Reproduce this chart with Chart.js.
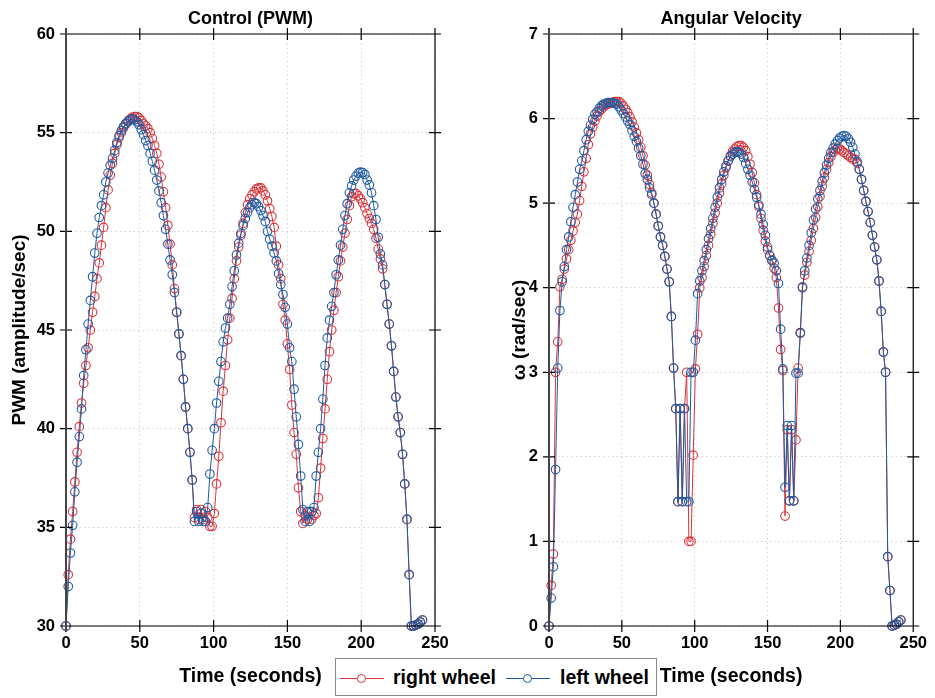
<!DOCTYPE html>
<html>
<head>
<meta charset="utf-8">
<script src="https://cdn.jsdelivr.net/npm/chart.js@4.4.1/dist/chart.umd.min.js"></script>
<style>
  body { margin: 0; background: #fff; }
  #wrap { position: relative; width: 935px; height: 698px; overflow: hidden; }
  #pwmChart { position: absolute; left: 0; top: 0; }
  #velChart { position: absolute; left: 470px; top: 0; }
  #legend {
    position: absolute; left: 335px; top: 658px; width: 320px; height: 36px;
    border: 1px solid #888; background: #fff;
    font: bold 19.5px "Liberation Sans", Arial, sans-serif; color: #000;
  }
  .sym { position: absolute; top: 19px; width: 44px; height: 0; }
  .sym i { position: absolute; left: 0; right: 0; top: 0; border-top: 1px solid; }
  .sym b { position: absolute; left: 17px; top: -4px; width: 7px; height: 7px; border: 1px solid; border-radius: 50%; background: #fff; }
  .lbl { position: absolute; top: 7px; line-height: 23px; white-space: nowrap; }
</style>
</head>
<body>
<div id="wrap">
  <canvas id="pwmChart" width="470" height="698"></canvas>
  <canvas id="velChart" width="465" height="698"></canvas>
  <div id="legend">
    <span class="sym" style="left:4px; color:#d9343a"><i></i><b></b></span>
    <span class="lbl" style="left:57px">right wheel</span>
    <span class="sym" style="left:170px; color:#1f5aa0"><i></i><b></b></span>
    <span class="lbl" style="left:224px">left wheel</span>
  </div>
</div>
<script>
// Change Label & Data Set Here
var time = [
  0, 1.5, 3, 4.5, 6, 7.5, 9, 10.5, 12, 13.5,
  15, 16.5, 18, 19.5, 21, 22.5, 24, 25.5, 27, 28.5,
  30, 31.5, 33, 34.5, 36, 37.5, 39, 40.5, 42, 43.5,
  45, 46.5, 48, 49.5, 51, 52.5, 54, 55.5, 57, 58.5,
  60, 61.5, 63, 64.5, 66, 67.5, 69, 70.5, 72, 73.5,
  75, 76.5, 78, 79.5, 81, 82.5, 84, 85.5, 87, 88.5,
  90, 91.5, 93, 94.5, 96, 97.5, 99, 100.5, 102, 103.5,
  105, 106.5, 108, 109.5, 111, 112.5, 114, 115.5, 117, 118.5,
  120, 121.5, 123, 124.5, 126, 127.5, 129, 130.5, 132, 133.5,
  135, 136.5, 138, 139.5, 141, 142.5, 144, 145.5, 147, 148.5,
  150, 151.5, 153, 154.5, 156, 157.5, 159, 160.5, 162, 163.5,
  165, 166.5, 168, 169.5, 171, 172.5, 174, 175.5, 177, 178.5,
  180, 181.5, 183, 184.5, 186, 187.5, 189, 190.5, 192, 193.5,
  195, 196.5, 198, 199.5, 201, 202.5, 204, 205.5, 207, 208.5,
  210, 211.5, 213, 214.5, 216, 217.5, 219, 220.5, 222, 223.5,
  225, 226.5, 228, 229.5, 231, 232.5, 234, 235.5, 237, 238.5,
  240, 241.5
];

// PWM, right wheel
var pwmRight = [
  30.0, 32.6, 34.4, 35.8, 37.3, 38.8, 40.1, 41.3, 42.3, 43.2,
  44.1, 45.0, 45.9, 46.7, 47.6, 48.4, 49.3, 50.2, 51.2, 52.1,
  52.85, 53.45, 53.95, 54.4, 54.75, 55.0, 55.25, 55.45, 55.6, 55.7,
  55.78, 55.82, 55.82, 55.75, 55.62, 55.45, 55.35, 55.2, 55.0, 54.7,
  54.35, 53.95, 53.4, 52.75, 52.0, 51.2, 50.3, 49.35, 48.3, 47.1,
  45.9, 44.8, 43.7, 42.5, 41.1, 40.0, 38.8, 37.4, 35.5, 35.9,
  35.4, 35.9, 35.4, 35.8, 35.5, 35.05, 35.05, 35.7, 37.2, 38.6,
  40.3, 41.9, 43.2, 44.5, 45.6, 46.6, 47.6, 48.5, 49.2, 49.8,
  50.4, 50.95, 51.35, 51.65, 51.85, 52.0, 52.15, 52.2, 52.2, 52.05,
  51.85, 51.55, 51.15, 50.75, 50.2, 49.25, 48.3, 47.6, 46.3, 45.5,
  44.3, 43.0, 41.2, 39.8, 38.7, 37.0, 35.8, 35.2, 35.6, 35.4,
  35.8, 35.4, 35.6, 35.7, 36.5, 38.0, 39.5, 41.0, 42.5, 43.9,
  45.0, 46.0, 46.9, 47.7, 48.5, 49.2, 49.9, 50.6, 51.3, 51.75,
  51.9, 51.92, 51.8, 51.65, 51.45, 51.2, 50.9, 50.65, 50.4, 50.1,
  49.65, 49.1, 48.6, 48.1, 47.3, 46.3, 45.3, 44.2, 42.9, 41.6,
  40.6, 39.8, 38.7, 37.2, 35.4, 32.6, 30.0, 30.0, 30.05, 30.1,
  30.2, 30.3
];

// PWM, left wheel
var pwmLeft = [
  30.0, 32.0, 33.7, 35.1, 36.8, 38.3, 39.6, 41.0, 42.7, 44.0,
  45.3, 46.5, 47.7, 48.9, 49.9, 50.7, 51.3, 51.85, 52.5, 52.95,
  53.35, 53.7, 54.1, 54.5, 54.85, 55.1, 55.3, 55.45, 55.55, 55.65,
  55.7, 55.65, 55.55, 55.4, 55.15, 54.9, 54.6, 54.35, 53.95, 53.55,
  53.1, 52.6, 52.05, 51.45, 50.8, 50.1, 49.35, 48.55, 47.8, 46.9,
  45.9, 44.8, 43.7, 42.5, 41.1, 40.0, 38.8, 37.4, 35.3, 35.8,
  35.3, 35.7, 35.3, 35.3, 36.0, 37.7, 38.9, 40.0, 41.3, 42.4,
  43.4, 44.4, 45.1, 45.6, 46.3, 47.2, 48.0, 48.8, 49.4, 49.9,
  50.3, 50.65, 50.95, 51.2, 51.35, 51.45, 51.4, 51.25, 51.05, 50.8,
  50.5, 50.0, 49.6, 49.25, 48.9, 48.5, 47.85, 47.3, 46.8, 46.15,
  45.3, 44.1, 43.4, 42.0, 40.6, 39.2, 37.6, 35.9, 35.3, 35.8,
  35.3, 35.8, 36.0, 37.6, 38.8, 40.0, 41.5, 43.2, 44.6, 45.5,
  46.2, 46.9, 47.8, 48.55, 49.3, 50.1, 50.8, 51.4, 51.95, 52.3,
  52.6, 52.8, 52.95, 53.0, 52.98, 52.88, 52.6, 52.35, 51.95, 51.3,
  50.6, 49.7, 48.85, 48.3, 47.3, 46.3, 45.3, 44.2, 42.9, 41.6,
  40.6, 39.8, 38.7, 37.2, 35.4, 32.6, 30.0, 30.0, 30.05, 30.1,
  30.2, 30.3
];

// angular velocity, right wheel
var velRight = [
  0, 0.48, 0.85, 3.0, 3.36, 4.01, 4.1, 4.22, 4.34, 4.45,
  4.56, 4.67, 4.77, 4.87, 5.03, 5.2, 5.37, 5.53, 5.69, 5.82,
  5.9, 5.97, 6.03, 6.08, 6.11, 6.14, 6.16, 6.17, 6.18, 6.19,
  6.2, 6.2, 6.2, 6.18, 6.15, 6.11, 6.07, 6.02, 5.96, 5.9,
  5.83, 5.75, 5.66, 5.56, 5.45, 5.33, 5.22, 5.12, 5.0, 4.87,
  4.73, 4.6, 4.5, 4.37, 4.22, 4.07, 3.66, 3.05, 2.57, 1.47,
  2.57, 1.47, 2.57, 3.0, 1.0, 1.0, 2.02, 3.04, 3.45, 4.0,
  4.12, 4.25, 4.38, 4.5, 4.63, 4.76, 4.88, 5.0, 5.12, 5.23,
  5.33, 5.42, 5.5, 5.56, 5.61, 5.64, 5.67, 5.68, 5.68, 5.66,
  5.62, 5.55, 5.46, 5.36, 5.24, 5.1, 4.96, 4.82, 4.68, 4.55,
  4.45, 4.38, 4.33, 4.23, 4.12, 3.76, 3.27, 3.02, 1.3, 2.32,
  1.48, 2.32, 1.48, 2.2, 3.05, 3.46, 4.01, 4.15, 4.3, 4.43,
  4.56, 4.7, 4.83, 4.96, 5.08, 5.2, 5.3, 5.4, 5.48, 5.55,
  5.6, 5.63, 5.65, 5.64, 5.62, 5.6, 5.58, 5.56, 5.54, 5.52,
  5.52, 5.47, 5.4, 5.28, 5.15, 5.02, 4.9, 4.77, 4.62, 4.48,
  4.33, 4.08, 3.72, 3.24, 3.0, 0.82, 0.42, 0.0, 0.01, 0.02,
  0.05, 0.07
];

// angular velocity, left wheel
var velLeft = [
  0, 0.33, 0.7, 1.85, 3.05, 3.73, 4.07, 4.25, 4.45, 4.6,
  4.78, 4.95, 5.1, 5.25, 5.4, 5.5, 5.62, 5.75, 5.85, 5.92,
  5.99, 6.05, 6.08, 6.12, 6.15, 6.17, 6.18, 6.19, 6.19, 6.19,
  6.18, 6.17, 6.14, 6.1, 6.06, 6.02, 5.97, 5.93, 5.86, 5.79,
  5.73, 5.65, 5.56, 5.46, 5.35, 5.28, 5.18, 5.1, 5.0, 4.87,
  4.73, 4.6, 4.5, 4.37, 4.22, 4.07, 3.66, 3.05, 2.57, 1.47,
  2.57, 1.47, 2.57, 1.47, 1.47, 3.0, 3.0, 3.38, 3.93, 4.08,
  4.2, 4.32, 4.45, 4.58, 4.7, 4.82, 4.95, 5.07, 5.18, 5.28,
  5.37, 5.44, 5.5, 5.55, 5.58, 5.6, 5.61, 5.6, 5.58, 5.54,
  5.47, 5.4, 5.33, 5.25, 5.16, 5.07, 4.98, 4.87, 4.75, 4.62,
  4.48, 4.38, 4.32, 4.29, 4.2, 4.05, 3.51, 3.04, 1.64, 2.37,
  1.48, 2.37, 1.48, 2.99, 2.99, 3.47, 4.0, 4.2, 4.35, 4.5,
  4.65, 4.8, 4.93, 5.05, 5.15, 5.26, 5.36, 5.45, 5.53, 5.6,
  5.65, 5.7, 5.74, 5.77, 5.79, 5.8, 5.79, 5.76, 5.72, 5.66,
  5.58, 5.49, 5.4, 5.28, 5.15, 5.02, 4.9, 4.77, 4.62, 4.48,
  4.33, 4.08, 3.72, 3.24, 3.0, 0.82, 0.42, 0.0, 0.01, 0.02,
  0.05, 0.07
];

var xTicks = [0, 50, 100, 150, 200, 250];
var pwmTicks = [30, 35, 40, 45, 50, 55, 60];
var velTicks = [0, 1, 2, 3, 4, 5, 6, 7];

var redColor = '#d9343a';
var blueColor = '#1f5aa0';
var fontFamily = '"Liberation Sans", Arial, Helvetica, sans-serif';

Chart.defaults.font.family = fontFamily;
Chart.defaults.color = '#000';

function toPoints(xs, ys) {
    return xs.map(function (x, i) { return { x: x, y: ys[i] }; });
}

function seriesSet(label, ys, color, order) {
    return {
        label: label,
        data: toPoints(time, ys),
        showLine: true,
        borderColor: color,
        borderWidth: 1,
        pointRadius: 4.3,
        pointBorderWidth: 1.1,
        pointBorderColor: color,
        pointBackgroundColor: 'rgba(0,0,0,0)',
        pointHoverRadius: 0,
        tension: 0,
        clip: false,
        order: order
    };
}

/**
 * Box round the axes, with ticks that cross each side,
 * and the title centred over the plot box
 */
const framePlugin = {
    id: 'frame',
    afterDraw(chart, args, opts) {
        const { ctx, chartArea, scales } = chart;
        const { left, right, top, bottom } = chartArea;
        const { x, y } = scales;
        ctx.save();
        ctx.strokeStyle = '#000';
        ctx.lineWidth = 1.2;
        ctx.beginPath();
        ctx.moveTo(left, top); ctx.lineTo(right, top);
        ctx.moveTo(right, top); ctx.lineTo(right, bottom);
        ctx.moveTo(left - 6, bottom); ctx.lineTo(right + 6, bottom);
        x.ticks.forEach(function (t) {
            const px = x.getPixelForValue(t.value);
            ctx.moveTo(px, bottom - 6); ctx.lineTo(px, bottom + 6);
            ctx.moveTo(px, top - 6); ctx.lineTo(px, top + 6);
        });
        y.ticks.forEach(function (t) {
            const py = y.getPixelForValue(t.value);
            ctx.moveTo(left - 6, py); ctx.lineTo(left + 6, py);
            ctx.moveTo(right - 6, py); ctx.lineTo(right + 6, py);
        });
        ctx.stroke();
        ctx.strokeStyle = '#444';
        ctx.lineWidth = 2;
        ctx.beginPath();
        ctx.moveTo(left, top - 6); ctx.lineTo(left, bottom + 6);
        ctx.stroke();

        ctx.fillStyle = '#000';
        ctx.font = 'bold 18px ' + fontFamily;
        ctx.textAlign = 'center';
        ctx.textBaseline = 'middle';
        ctx.fillText(opts.text, (left + right) / 2, 19);
        ctx.restore();
    }
};

function config(title, yTitle, rightSet, leftSet, yMin, yMax, yStep, yTickList, yWidth, padRight, yTitlePad) {
    return {
        type: 'scatter',
        data: { datasets: [rightSet, leftSet] },
        options: {
            responsive: false,
            animation: false,
            events: [],
            layout: { padding: { left: 0, right: padRight, top: 34, bottom: 0 } },
            plugins: {
                legend: { display: false },
                tooltip: { enabled: false },
                title: { display: false },
                frame: { text: title }
            },
            scales: {
                x: {
                    type: 'linear',
                    min: 0,
                    max: 250,
                    afterFit: function (s) { s.height = 72; },
                    afterBuildTicks: function (s) { s.ticks = xTicks.map(function (v) { return { value: v }; }); },
                    ticks: { font: { size: 16.5, weight: 'bold' }, padding: 8, color: '#000', maxRotation: 0 },
                    grid: { color: '#d2d2d2', lineWidth: 1, drawTicks: false },
                    border: { display: false, dash: [1.5, 3] },
                    title: {
                        display: true,
                        text: 'Time (seconds)',
                        color: '#000',
                        font: { size: 19.5, weight: 'bold' },
                        padding: { top: 0, bottom: 10 }
                    }
                },
                y: {
                    type: 'linear',
                    min: yMin,
                    max: yMax,
                    afterFit: function (s) { s.width = yWidth; },
                    afterBuildTicks: function (s) { s.ticks = yTickList.map(function (v) { return { value: v }; }); },
                    ticks: { font: { size: 16.5, weight: 'bold' }, padding: 11, color: '#000', stepSize: yStep },
                    grid: { color: '#d2d2d2', lineWidth: 1, drawTicks: false },
                    border: { display: false, dash: [1.5, 3] },
                    title: {
                        display: true,
                        text: yTitle,
                        color: '#000',
                        font: { size: 19, weight: 'bold' },
                        padding: { top: yTitlePad, bottom: 0 }
                    }
                }
            }
        },
        plugins: [framePlugin]
    };
}

const pwmChart = new Chart(
    document.getElementById('pwmChart'),
    config('Control (PWM)', 'PWM (amplitude/sec)',
        seriesSet('right wheel', pwmRight, redColor, 1),
        seriesSet('left wheel', pwmLeft, blueColor, 0),
        30, 60, 5, pwmTicks, 66, 35, 8.5)
);

const velChart = new Chart(
    document.getElementById('velChart'),
    config('Angular Velocity', 'ω (rad/sec)',
        seriesSet('right wheel', velRight, redColor, 1),
        seriesSet('left wheel', velLeft, blueColor, 0),
        0, 7, 1, velTicks, 79, 19, 38.5)
);
</script>
</body>
</html>
